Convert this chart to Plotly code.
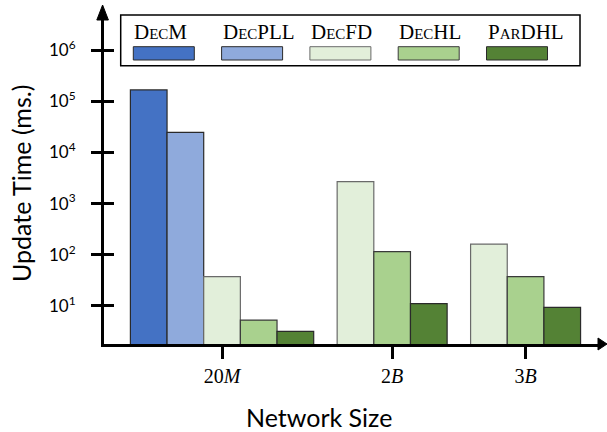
import plotly.graph_objects as go

# ---------------- data ----------------
groups = ["20M", "2B", "3B"]
group_labels = ["20<i>M</i>", "2<i>B</i>", "3<i>B</i>"]
series = ["DecM", "DecPLL", "DecFD", "DecHL", "ParDHL"]
series_labels = [
    "D<span style='font-size:15px'>EC</span>M",
    "D<span style='font-size:15px'>EC</span>PLL",
    "D<span style='font-size:15px'>EC</span>FD",
    "D<span style='font-size:15px'>EC</span>HL",
    "P<span style='font-size:15px'>AR</span>DHL",
]
dec_m = [1.66e5, None, None]
dec_pll = [2.45e4, None, None]
dec_fd = [37.3, 2680, 162]
dec_hl = [5.3, 115, 37.3]
par_dhl = [3.2, 11.1, 9.4]
values = [dec_m, dec_pll, dec_fd, dec_hl, par_dhl]
y_tick_vals = [1e1, 1e2, 1e3, 1e4, 1e5, 1e6]
y_tick_text = ["10<sup>1</sup>", "10<sup>2</sup>", "10<sup>3</sup>",
               "10<sup>4</sup>", "10<sup>5</sup>", "10<sup>6</sup>"]

# ---------------- style ----------------
colors = ["#4472C4", "#8FAADC", "#E2EFDA", "#A9D18E", "#548235"]
edges = ["#2a2a2a", "#2a2a2a", "#6a6a6a", "#3a3a3a", "#2a2a2a"]
GAP = 0.64

W_FIG, H_FIG = 607, 432
L, R, T, B = 104, 7, 20, 88
PW, PH = W_FIG - L - R, H_FIG - T - B


def px(x):
    return (x - L) / PW


def py(y):
    return (H_FIG - B - y) / PH


# slot positions: bars of a group sit side by side, groups separated by GAP
slot_x = [[None] * len(groups) for _ in series]
centers = []
pos = 0.0
for g in range(len(groups)):
    xs = []
    for s in range(len(series)):
        if values[s][g] is not None:
            slot_x[s][g] = pos
            xs.append(pos)
            pos += 1
    centers.append(sum(xs) / len(xs))
    pos += GAP

fig = go.Figure()
for s, name in enumerate(series):
    xs = [slot_x[s][g] for g in range(len(groups)) if values[s][g] is not None]
    ys = [values[s][g] for g in range(len(groups)) if values[s][g] is not None]
    fig.add_trace(go.Bar(
        x=xs, y=ys, name=name, width=1.0,
        marker=dict(color=colors[s], line=dict(color=edges[s], width=1.2)),
        showlegend=False,
    ))

# dummy trace for overlay axis (inner half of crossing ticks)
fig.add_trace(go.Scatter(x=[None], y=[None], yaxis="y2", showlegend=False,
                         hoverinfo="skip"))

yrange = [0.277 - 0.02, 6.586]
xrange = [-1.26 + 0.04, 12.31]

fig.update_layout(
    width=W_FIG, height=H_FIG,
    margin=dict(l=L, r=R, t=T, b=B),
    paper_bgcolor="white", plot_bgcolor="white",
    barmode="overlay",
    xaxis=dict(
        range=xrange, tickvals=centers, ticktext=group_labels,
        ticks="outside", ticklen=12, tickwidth=2.5, tickcolor="black",
        showline=True, linewidth=3, linecolor="black", showgrid=False,
        zeroline=False, automargin=False,
        tickfont=dict(family="Liberation Serif", size=20, color="black"),
    ),
    yaxis=dict(
        type="log", range=yrange, tickvals=y_tick_vals, ticktext=y_tick_text,
        ticks="outside", ticklen=10, tickwidth=2.5, tickcolor="black",
        showline=True, linewidth=3, linecolor="black", showgrid=False,
        zeroline=False, ticklabelstandoff=12, automargin=False,
        tickfont=dict(family="Lato", size=17, color="black"),
    ),
    yaxis2=dict(
        type="log", range=yrange, tickvals=y_tick_vals, overlaying="y",
        side="left", ticks="inside", ticklen=10, tickwidth=2.5,
        tickcolor="black", showticklabels=False, showgrid=False,
        zeroline=False, showline=False,
    ),
)

shapes = []
annotations = []
# axis arrowheads
shapes.append(dict(type="path", xref="paper", yref="paper",
                   path=f"M {px(96.8)},{py(20)} L {px(102.6)},{py(5)} L {px(108.4)},{py(20)} Z",
                   fillcolor="black", line=dict(color="black", width=1)))
shapes.append(dict(type="path", xref="paper", yref="paper",
                   path=f"M {px(598)},{py(338)} L {px(607)},{py(344)} L {px(598)},{py(350)} Z",
                   fillcolor="black", line=dict(color="black", width=1)))
# custom legend
shapes.append(dict(type="rect", xref="paper", yref="paper",
                   x0=px(120.7), x1=px(580), y0=py(15), y1=py(65.7),
                   fillcolor="white", line=dict(color="black", width=1.5)))
for i, lab in enumerate(series_labels):
    x0 = 133.3 + i * 88.3
    shapes.append(dict(type="rect", xref="paper", yref="paper",
                       x0=px(x0), x1=px(x0 + 61), y0=py(46.7), y1=py(60),
                       fillcolor=colors[i], line=dict(color=edges[i], width=1)))
    annotations.append(dict(text=lab, xref="paper", yref="paper",
                            x=px(x0 - 1), y=py(32), xanchor="left", yanchor="middle",
                            showarrow=False,
                            font=dict(family="Liberation Serif", size=21, color="black")))
annotations.append(dict(text="Network Size", xref="paper", yref="paper",
                        x=px(319), y=py(417), xanchor="center", yanchor="middle",
                        showarrow=False,
                        font=dict(family="Lato", size=25, color="black")))
annotations.append(dict(text="Update Time (ms.)", xref="paper", yref="paper",
                        x=px(21), y=py(184), xanchor="center", yanchor="middle",
                        textangle=-90, showarrow=False,
                        font=dict(family="Lato", size=25, color="black")))
fig.update_layout(shapes=shapes, annotations=annotations)

fig.write_html("out.html", config={"displayModeBar": False},
               post_script="document.body.style.margin='0';")
